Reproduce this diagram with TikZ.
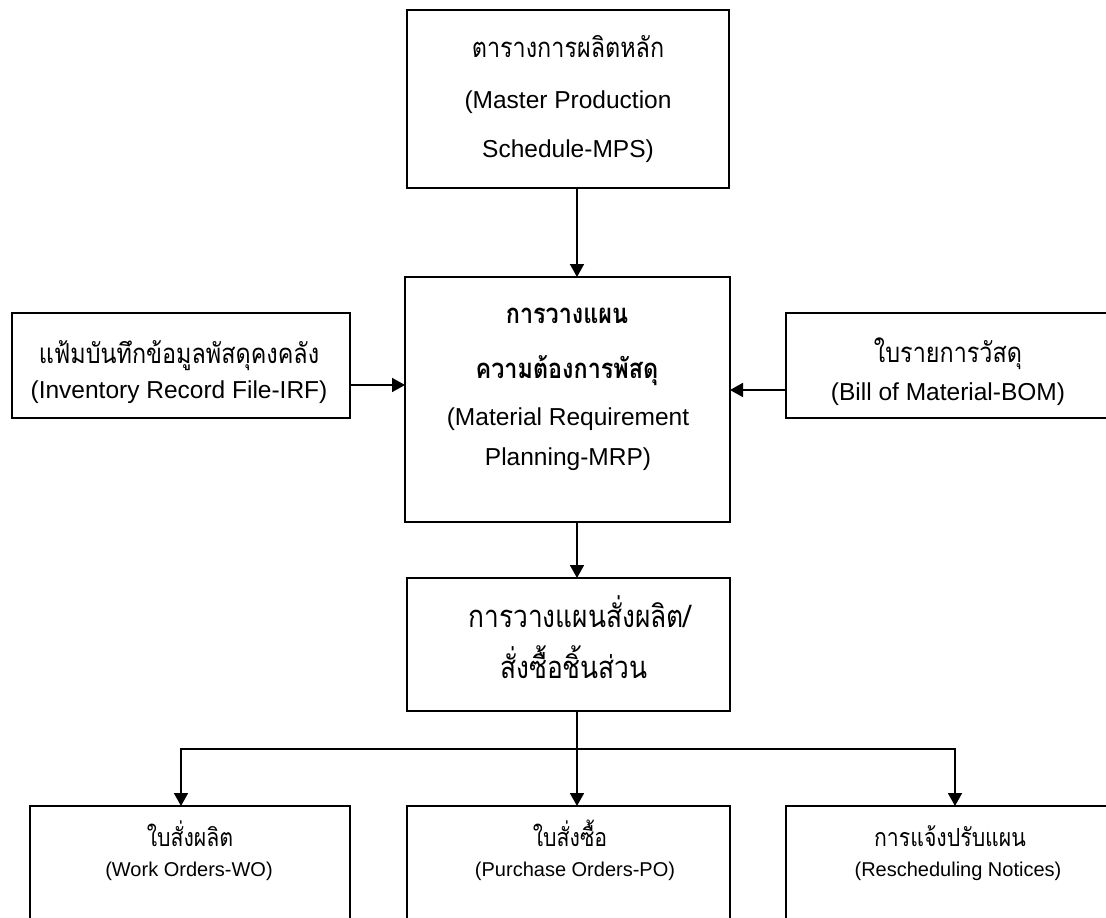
\documentclass[tikz,border=0pt]{standalone}
\usepackage{fontspec}
\setmainfont{Liberation Sans}
\newfontfamily\thaifont[Script=Thai, FakeStretch=0.85]{Loma}
\usetikzlibrary{arrows.meta}
\begin{document}
\begin{tikzpicture}[x=1pt,y=-1pt,
  box/.style={draw, line width=2.2pt, inner sep=0pt, outer sep=0pt},
  conn/.style={line width=1.8pt},
  arr/.style={conn, -{Triangle[length=13pt,width=14pt]}},
  txt/.style={anchor=base, inner sep=0pt},
  thbig/.style={txt, font=\thaifont\fontsize{27.5}{27.5}\selectfont},
  thbold/.style={txt, font=\thaifont\bfseries\fontsize{27.5}{27.5}\selectfont},
  thplan/.style={txt, font=\thaifont\fontsize{31}{31}\selectfont},
  lbig/.style={txt, font=\fontsize{24.5}{24.5}\selectfont},
  thsmall/.style={txt, font=\thaifont\fontsize{25}{25}\selectfont},
  lsmall/.style={txt, font=\fontsize{20}{20}\selectfont}]
\path[use as bounding box] (0,0) rectangle (1106,918);
\clip (0,0) rectangle (1106,918);

% boxes
\node[box, minimum width=322pt, minimum height=178pt] (mps) at (568,99) {};
\node[box, minimum width=338pt, minimum height=105pt] (irf) at (181,365.5) {};
\node[box, minimum width=325pt, minimum height=245pt] (mrp) at (567.5,399.5) {};
\node[box, minimum width=334pt, minimum height=105pt] (bom) at (953,365.5) {};
\node[box, minimum width=323pt, minimum height=133pt] (plan) at (568.5,644.5) {};
\node[box, minimum width=320pt, minimum height=130pt] (wo) at (190,871) {};
\node[box, minimum width=323pt, minimum height=130pt] (po) at (568.5,871) {};
\node[box, minimum width=334pt, minimum height=130pt] (rs) at (953,871) {};

% box texts
\node[thbig] (mpsA) at (568,57) {ตารางการผลิตหลัก};
\node[lbig] (mpsB) at (568,108) {(Master Production};
\node[lbig] (mpsC) at (568,157) {Schedule-MPS)};

\node[thbig] (irfA) at (179,363) {แฟ้มบันทึกข้อมูลพัสดุคงคลัง};
\node[lbig] (irfB) at (179,398) {(Inventory Record File-IRF)};

\node[thbold] (mrpA) at (567,323) {การวางแผน};
\node[thbold] (mrpB) at (567,378) {ความต้องการพัสดุ};
\node[lbig] (mrpC) at (568,425) {(Material Requirement};
\node[lbig] (mrpD) at (568,465) {Planning-MRP)};

\node[thbig] (bomA) at (948,362) {ใบรายการวัสดุ};
\node[lbig] (bomB) at (948,400) {(Bill of Material-BOM)};

\node[thplan] (planA) at (580,627) {การวางแผนสั่งผลิต/};
\node[thplan] (planB) at (574,678) {สั่งซื้อชิ้นส่วน};

\node[thsmall] (woA) at (190,846) {ใบสั่งผลิต};
\node[lsmall] (woB) at (189,876) {(Work Orders-WO)};
\node[thsmall] (poA) at (570,846) {ใบสั่งซื้อ};
\node[lsmall] (poB) at (575,876) {(Purchase Orders-PO)};
\node[thsmall] (rsA) at (950,846) {การแจ้งปรับแผน};
\node[lsmall] (rsB) at (958,876) {(Rescheduling Notices)};

% connector guides
\coordinate (cx) at (577,0);
\coordinate (ly) at (0,385);
\coordinate (ry) at (0,390);
\coordinate (split) at (577,749);
\coordinate (wx) at (181,0);
\coordinate (rx) at (955,0);

% connectors
\draw[arr] (mps.south -| cx) -- (mrp.north -| cx);
\draw[arr] (irf.east |- ly) -- (mrp.west |- ly);
\draw[arr] (bom.west |- ry) -- (mrp.east |- ry);
\draw[arr] (mrp.south -| cx) -- (plan.north -| cx);
\draw[conn] (plan.south -| cx) -- (split);
\draw[arr] (split) -| (wo.north -| wx);
\draw[arr] (split) -- (po.north -| cx);
\draw[arr] (split) -| (rs.north -| rx);
\end{tikzpicture}
\end{document}
